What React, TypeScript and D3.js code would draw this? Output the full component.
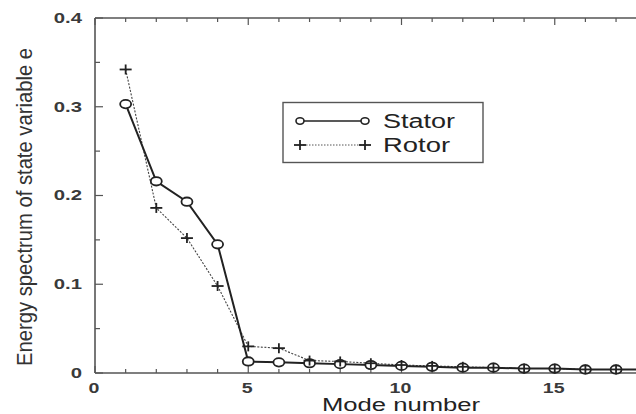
import React from "react";
import * as d3 from "d3";

const modes = [1, 2, 3, 4, 5, 6, 7, 8, 9, 10, 11, 12, 13, 14, 15, 16, 17, 18];
const stator = [0.303, 0.216, 0.193, 0.145, 0.013, 0.012, 0.011, 0.010, 0.009, 0.008, 0.007, 0.006, 0.006, 0.005, 0.005, 0.004, 0.004, 0.004];
const rotor = [0.342, 0.186, 0.152, 0.098, 0.030, 0.028, 0.014, 0.013, 0.011, 0.009, 0.008, 0.007, 0.006, 0.005, 0.005, 0.004, 0.004, 0.004];
const xTicks = [0, 5, 10, 15];
const yTicks = [0, 0.1, 0.2, 0.3, 0.4];
const xLabel = "Mode number";
const yLabel = "Energy spectrum of state variable e";
const seriesNames = ["Stator", "Rotor"];

const W = 636;
const H = 414;
const left = 95;
const top = 18;
const bottom = 373;
const unit = 30.65;

export default function App() {
  const x = d3.scaleLinear().domain([0, 20]).range([left, left + 20 * unit]);
  const y = d3.scaleLinear().domain([0, 0.4]).range([bottom, top]);
  const line = d3
    .line<[number, number]>()
    .x((d) => x(d[0]))
    .y((d) => y(d[1]));
  const sPts: [number, number][] = modes.map((m, i) => [m, stator[i]]);
  const rPts: [number, number][] = modes.map((m, i) => [m, rotor[i]]);
  const right = x(20);
  const minorX = d3.range(0, 21, 1).filter((v) => v % 5 !== 0);
  const majorX = d3.range(0, 21, 5);
  const minorY = [0.05, 0.15, 0.25, 0.35];
  const frame = "#555";
  const ink = "#222";
  const font = "'Liberation Sans', Arial, Helvetica, sans-serif";

  const plus = (cx: number, cy: number, k: string) => (
    <g key={k} stroke={ink} strokeWidth={1.8}>
      <line x1={cx - 6} x2={cx + 6} y1={cy} y2={cy} />
      <line x1={cx} x2={cx} y1={cy - 5} y2={cy + 5} />
    </g>
  );

  return (
    <svg
      width={W}
      height={H}
      style={{ position: "absolute", left: 0, top: 0, background: "#fff" }}
    >
      <rect x={0} y={0} width={W} height={H} fill="#fff" />
      {/* frame */}
      <g stroke={frame} strokeWidth={1.6} fill="none">
        <line x1={left} x2={right} y1={top} y2={top} />
        <line x1={left} x2={right} y1={bottom} y2={bottom} />
        <line x1={left} x2={left} y1={top} y2={bottom} />
        <line x1={right} x2={right} y1={top} y2={bottom} />
      </g>
      {/* ticks */}
      <g stroke={frame} strokeWidth={1.2}>
        {majorX.map((t) => (
          <g key={"xt" + t}>
            <line x1={x(t)} x2={x(t)} y1={bottom} y2={bottom - 7} />
            <line x1={x(t)} x2={x(t)} y1={top} y2={top + 7} />
          </g>
        ))}
        {minorX.map((t) => (
          <g key={"xm" + t}>
            <line x1={x(t)} x2={x(t)} y1={bottom} y2={bottom - 4} />
            <line x1={x(t)} x2={x(t)} y1={top} y2={top + 4} />
          </g>
        ))}
        {yTicks.map((t) => (
          <line key={"yt" + t} x1={left} x2={left + 8} y1={y(t)} y2={y(t)} />
        ))}
        {minorY.map((t) => (
          <line key={"ym" + t} x1={left} x2={left + 5} y1={y(t)} y2={y(t)} />
        ))}
      </g>
      {/* tick labels */}
      <g fontFamily={font} fontSize={14.5} fontWeight="bold" fill="#3a3a3a">
        {xTicks.map((t) => (
          <text
            key={"xl" + t}
            x={x(t) - 1}
            y={393}
            textAnchor="middle"
            transform={`translate(${x(t) - 1},0) scale(1.35,1) translate(${-(x(t) - 1)},0)`}
          >
            {t}
          </text>
        ))}
        {yTicks.map((t) => (
          <text
            key={"yl" + t}
            x={82}
            y={y(t) + 5}
            textAnchor="end"
            transform={`translate(82,0) scale(1.4,1) translate(-82,0)`}
          >
            {t === 0 ? "0" : d3.format(".1f")(t)}
          </text>
        ))}
      </g>
      {/* axis titles */}
      <text
        x={401}
        y={411}
        textAnchor="middle"
        fontFamily={font}
        fontSize={18}
        fill="#222"
        textLength={158}
        lengthAdjust="spacingAndGlyphs"
      >
        {xLabel}
      </text>
      <g transform="translate(32,207) rotate(-90)">
        <text
          x={0}
          y={0}
          textAnchor="middle"
          fontFamily={font}
          fontSize={17}
          fill="#333"
          textLength={318}
          lengthAdjust="spacingAndGlyphs"
          transform="scale(1,1.25)"
        >
          {yLabel}
        </text>
      </g>
      {/* rotor line */}
      <path d={line(rPts) || ""} fill="none" stroke="#444" strokeWidth={1.1} strokeDasharray="2,1.5" />
      {/* stator line */}
      <path d={line(sPts) || ""} fill="none" stroke={ink} strokeWidth={2} />
      {sPts.map((p, i) => (
        <ellipse key={"s" + i} cx={x(p[0])} cy={y(p[1])} rx={5.5} ry={4.2} fill="#fff" stroke={ink} strokeWidth={1.8} />
      ))}
      {rPts.map((p, i) => plus(x(p[0]), y(p[1]), "r" + i))}
      {/* legend */}
      <rect x={283} y={102.5} width={200} height={60} fill="#fff" stroke={frame} strokeWidth={1.4} />
      <line x1={300} x2={365} y1={121} y2={121} stroke={ink} strokeWidth={1.6} />
      <ellipse cx={300} cy={121} rx={4} ry={3.2} fill="#fff" stroke={ink} strokeWidth={1.6} />
      <ellipse cx={365} cy={121} rx={4} ry={3.2} fill="#fff" stroke={ink} strokeWidth={1.6} />
      <line x1={300} x2={365} y1={145} y2={145} stroke="#555" strokeWidth={1} strokeDasharray="1.5,1.5" />
      {plus(300, 145, "lp1")}
      {plus(365, 145, "lp2")}
      <g fontFamily={font} fontSize={20} fill="#222">
        <text x={383} y={128} textLength={72} lengthAdjust="spacingAndGlyphs">
          {seriesNames[0]}
        </text>
        <text x={383} y={152} textLength={67} lengthAdjust="spacingAndGlyphs">
          {seriesNames[1]}
        </text>
      </g>
    </svg>
  );
}
